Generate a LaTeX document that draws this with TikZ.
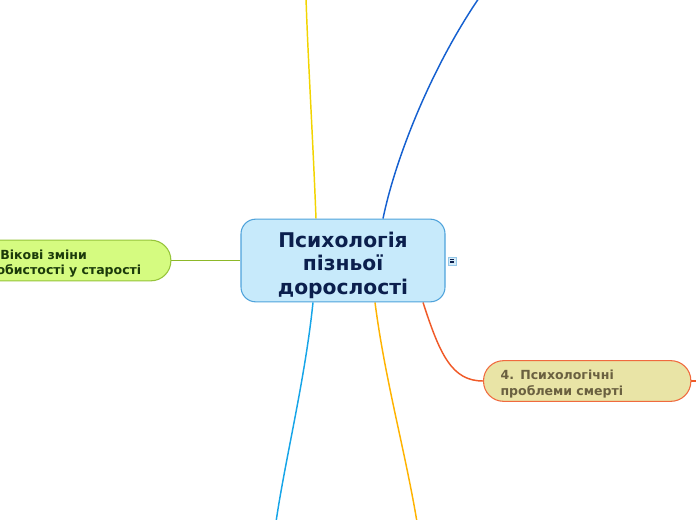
\documentclass[tikz,border=0pt]{standalone}
\usepackage{fontspec}
\setmainfont{DejaVu Sans}
\usetikzlibrary{calc,backgrounds}
\definecolor{cfill}{HTML}{C7EAFB}
\definecolor{cdraw}{HTML}{4FA3DB}
\definecolor{ctext}{HTML}{0B1F4D}
\definecolor{gfill}{HTML}{D5FB80}
\definecolor{gdraw}{HTML}{96C43A}
\definecolor{gtext}{HTML}{1B3A0A}
\definecolor{rfill}{HTML}{E9E4A6}
\definecolor{rdraw}{HTML}{F06A3E}
\definecolor{rtext}{HTML}{6A6040}
\definecolor{lgreen}{HTML}{8DB829}
\definecolor{lyellow}{HTML}{F2D400}
\definecolor{lblue}{HTML}{1560D0}
\definecolor{lred}{HTML}{F05A28}
\definecolor{lcyan}{HTML}{16A5E8}
\definecolor{lorange}{HTML}{FFB300}
\definecolor{ifill}{HTML}{D5EBF8}
\begin{document}
\begin{tikzpicture}[x=0.75pt,y=-0.75pt,
  conn/.style={line width=1.1pt},
  mainbox/.style={draw=cdraw,fill=cfill,line width=0.8pt,rounded corners=11pt,
    minimum width=153pt,minimum height=62pt,text=ctext,align=center,
    font=\fontsize{15.2pt}{17.6pt}\selectfont\bfseries,inner sep=0pt},
  subbox/.style={line width=0.8pt,rounded corners=15pt,
    text width=130pt,minimum height=30.5pt,align=left,anchor=west,
    inner xsep=12.75pt,inner ysep=0pt,
    font=\fontsize{9.4pt}{11.5pt}\selectfont\bfseries}]
\useasboundingbox (0,0) rectangle (696,520);
\clip (0,0) rectangle (696,520);
\node[mainbox] (c) at (343,260.5) {\rule{0pt}{18.6pt}Психологія\\пізньої\\дорослості};
\node[subbox,draw=gdraw,fill=gfill,text=gtext] (g) at (-37,260.5) {\rule{0pt}{11.5pt}3. Вікові зміни\\особистості у старості};
\node[subbox,draw=rdraw,fill=rfill,text=rtext] (r) at (483,381) {\rule{0pt}{11.5pt}4. Психологічні\\проблеми смерті};
\coordinate (ytop) at (306,-2);
\coordinate (btop) at (479,-2);
\coordinate (cbot) at (276,522);
\coordinate (obot) at (417,522);
\coordinate (rstub) at (700,381);
\begin{pgfonlayer}{background}
\draw[conn,lgreen] (g.east) -- (c.west);
\draw[conn,lyellow] ($(c.north)+(-27,0)$) .. controls (313,140) and (308,60) .. (ytop);
\draw[conn,lblue] ($(c.north)+(40,0)$) .. controls (395,160) and (430,70) .. (btop);
\draw[conn,lred] ($(c.south)+(80,0)$) .. controls (440,355) and (452,381) .. (r.west);
\draw[conn,lcyan] ($(c.south)+(-30,0)$) .. controls (305,380) and (285,460) .. (cbot);
\draw[conn,lorange] ($(c.south)+(32,0)$) .. controls (385,380) and (405,450) .. (obot);
\draw[conn,lred] (r.east) -- (rstub);
\end{pgfonlayer}
% icon
\node[draw=cdraw!60,fill=ifill,minimum width=6pt,minimum height=6pt,inner sep=0pt,line width=0.3pt] (ic) at (452,261) {};
\foreach \dy in {-1.5,0,1.5} \draw[ctext,line width=0.5pt] ($(ic.center)+(-2,\dy)$) -- ($(ic.center)+(2,\dy)$);
\end{tikzpicture}
\end{document}
